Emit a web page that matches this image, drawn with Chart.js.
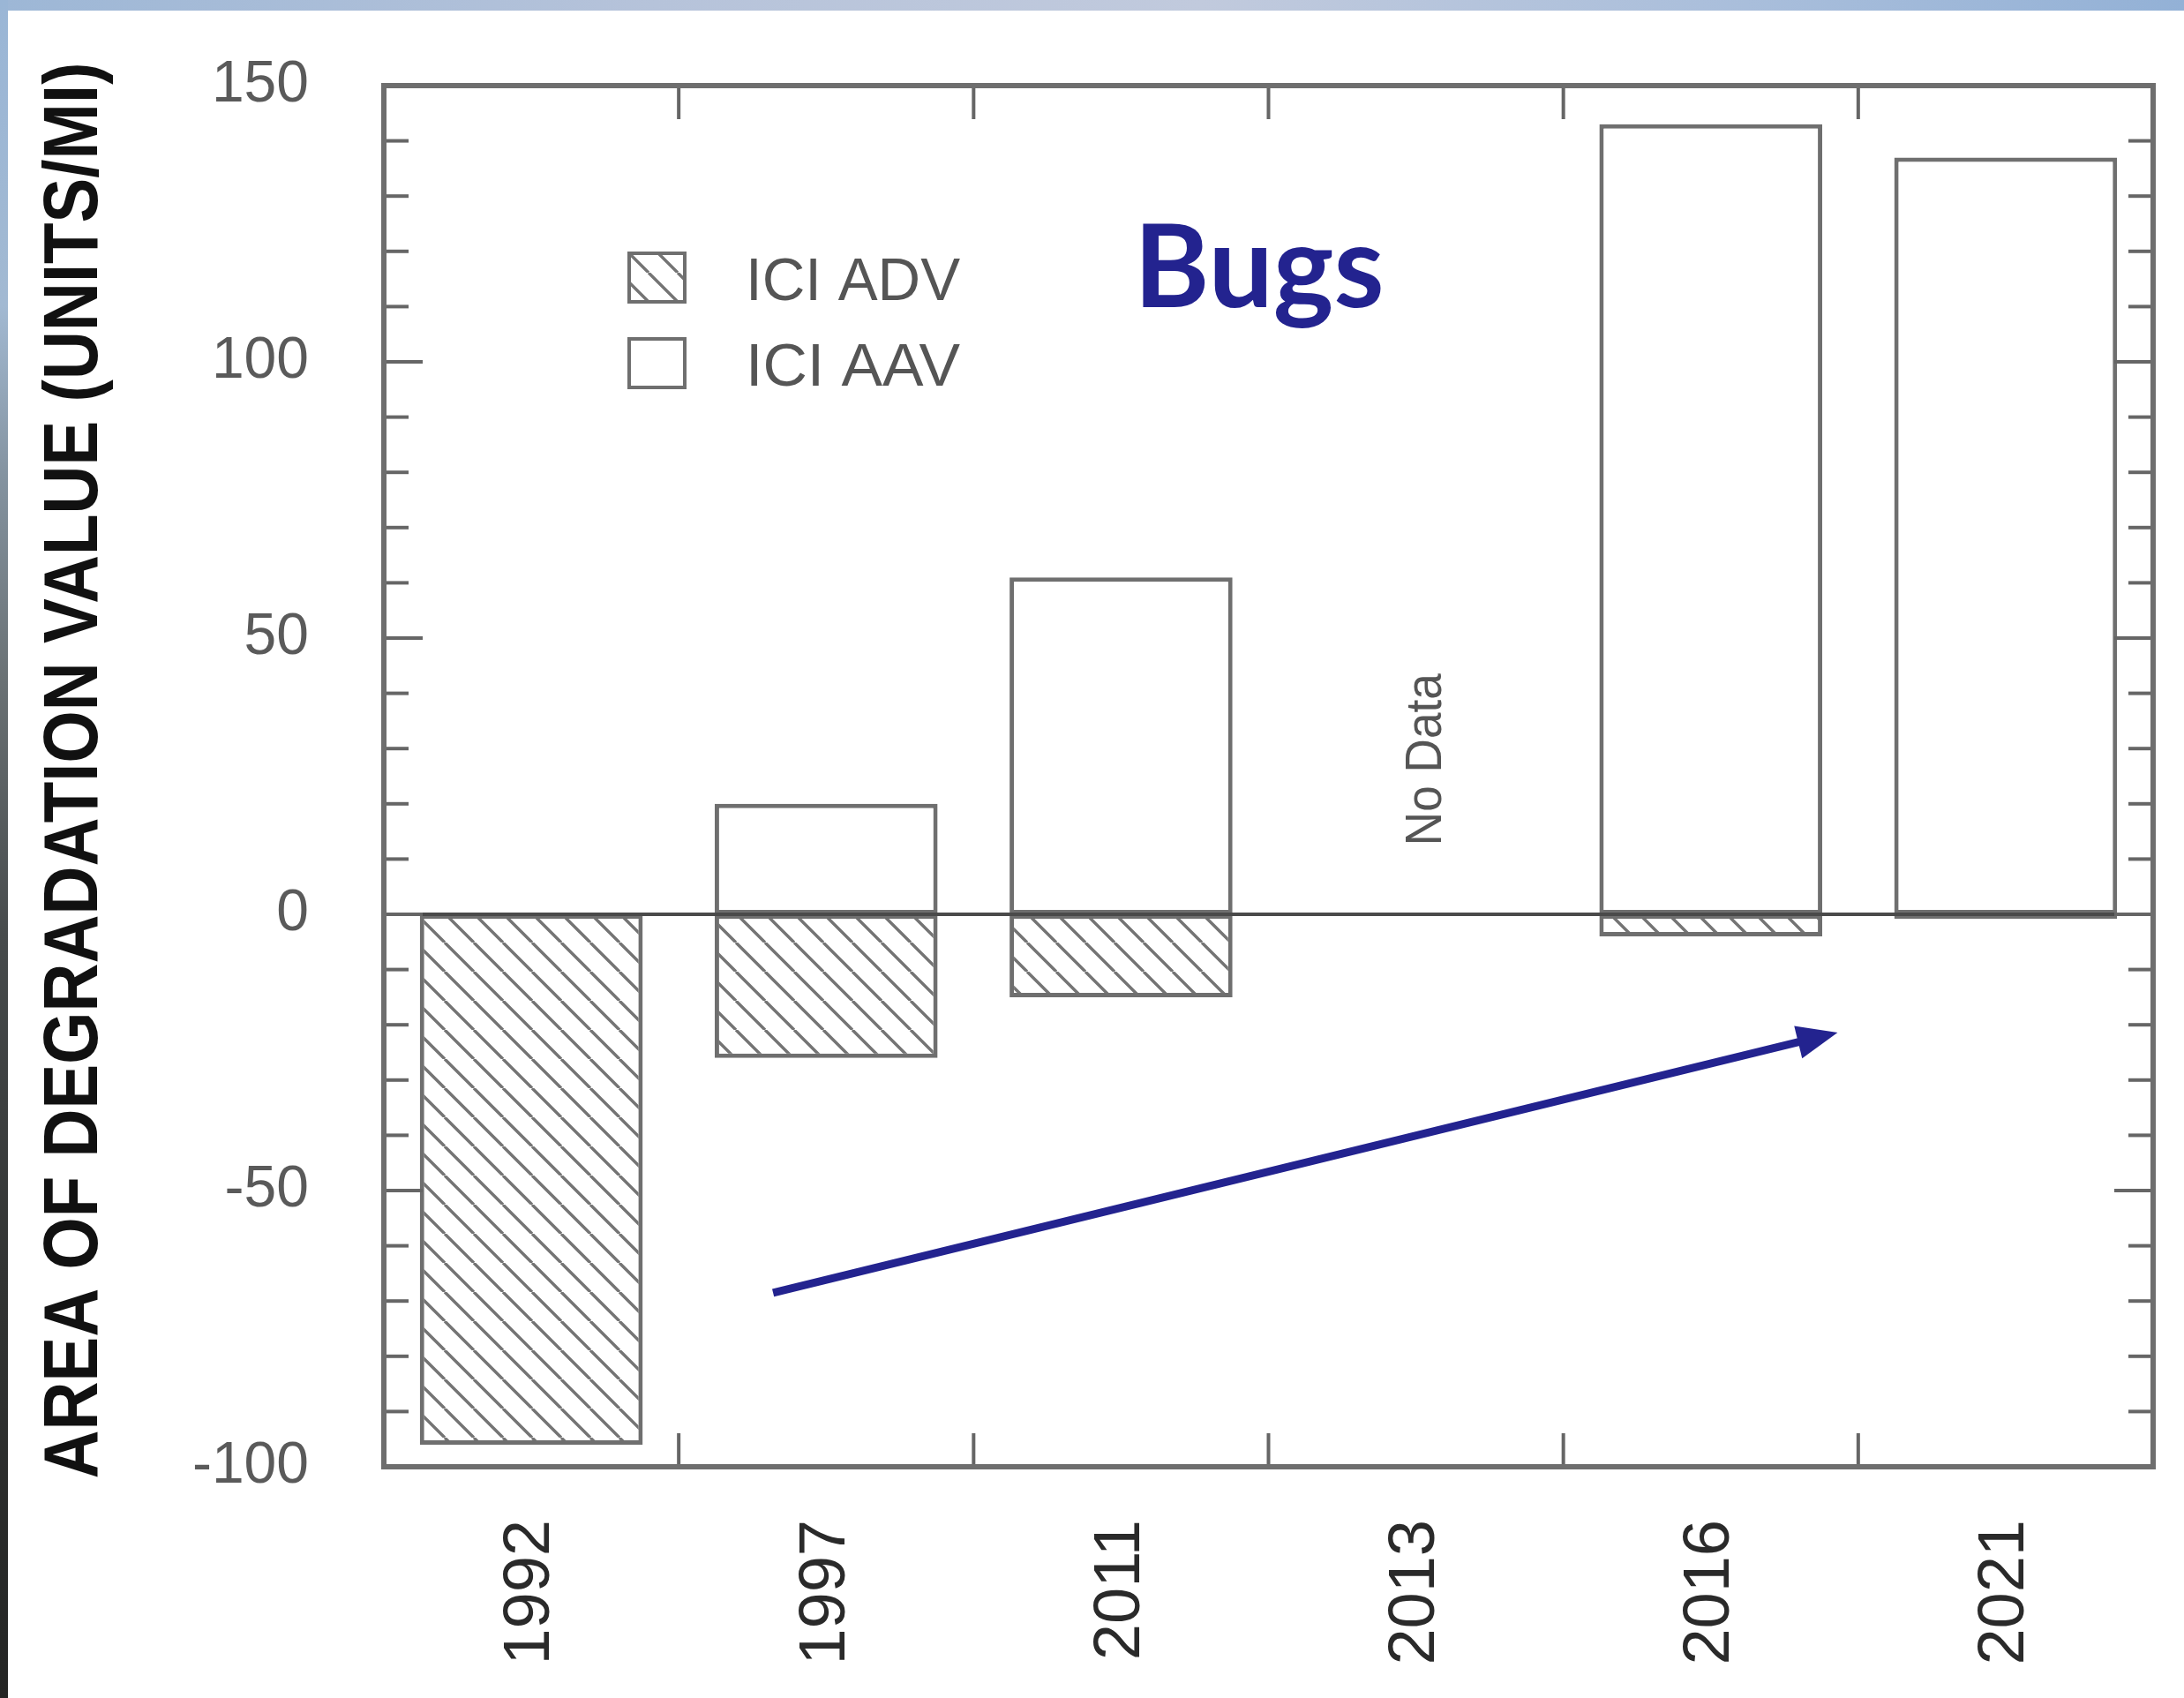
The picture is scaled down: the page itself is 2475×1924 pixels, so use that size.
<!DOCTYPE html>
<html>
<head>
<meta charset="utf-8">
<script src="https://cdn.jsdelivr.net/npm/chart.js@4.4.1/dist/chart.umd.min.js"></script>
<style>
  html, body { margin: 0; padding: 0; width: 2475px; height: 1924px; overflow: hidden; background: #fff; }
  #topband { position: absolute; left: 0; top: 0; width: 2475px; height: 12px;
    background: linear-gradient(90deg, #9db7d6 0%, #b6c3da 30%, #c1cadd 55%, #a9bedb 80%, #93b1d6 100%); }
  #sideband { position: absolute; left: 0; top: 0; width: 9px; height: 1924px;
    background: linear-gradient(180deg, #9ab6d6 0%, #a2b9d2 18%, #8493a0 28%, #6a7174 40%, #474b4c 55%, #323433 75%, #242524 100%); }
  #panel { position: absolute; left: 9px; top: 12px; width: 2466px; height: 1912px; background: #fff; }
</style>
</head>
<body>
<div id="topband"></div>
<div id="sideband"></div>
<div id="panel"><canvas id="chart" width="2466" height="1912"></canvas></div>
<script>
// Sampling years along the x axis
const years = ['1992', '1997', '2011', '2013', '2016', '2021'];
// Area of degradation value (ADV) – below zero
const adv = [-96, -26, -15, null, -4, -0.8];
// Area of attainment value (AAV) – above zero
const aav = [null, 20, 61, null, 143, 137];
// Labelled ticks on the value axis
const yTicks = [-100, -50, 0, 50, 100, 150];
const seriesNames = ['ICI ADV', 'ICI AAV'];
const yTitle = 'AREA OF DEGRADATION VALUE (UNITS/MI)';
const chartTitle = 'Bugs';
const noDataText = 'No Data';
const noDataAt = { x: 3, y: 28 };
// Trend arrow, in axis units (category index, value)
const trendFrom = { x: 0.82, y: -68.5 };
const trendTo = { x: 4.43, y: -21.4 };

const OUTLINE = '#6f6f6f';
const NAVY = '#23238f';

function hatchPattern(ctx) {
  const s = 33;
  const c = document.createElement('canvas');
  c.width = s; c.height = s;
  const g = c.getContext('2d');
  g.fillStyle = '#ffffff';
  g.fillRect(0, 0, s, s);
  g.strokeStyle = '#747474';
  g.lineWidth = 3.4;
  g.beginPath();
  for (let k = -1; k <= 1; k++) {
    g.moveTo(k * s, 0);
    g.lineTo(k * s + s, s);
  }
  g.stroke();
  return ctx.createPattern(c, 'repeat');
}

const canvas = document.getElementById('chart');
const ctx0 = canvas.getContext('2d');
const hatch = hatchPattern(ctx0);

function seg(ctx, x1, y1, x2, y2) {
  ctx.beginPath(); ctx.moveTo(x1, y1); ctx.lineTo(x2, y2); ctx.stroke();
}

function fitText(ctx, text, font, length) {
  ctx.font = font;
  const w = ctx.measureText(text).width;
  return length / w;
}

const decor = {
  id: 'decor',
  afterDatasetsDraw(chart) {
    const { ctx, chartArea: a, scales: { x, y } } = chart;
    ctx.save();

    // zero line
    const y0 = y.getPixelForValue(0);
    ctx.strokeStyle = '#4a4a4a';
    ctx.lineWidth = 4;
    seg(ctx, a.left, y0, a.right, y0);

    // inward tick marks on all four sides
    ctx.strokeStyle = '#666';
    ctx.lineWidth = 4;
    for (let v = y.min; v <= y.max; v += 10) {
      const py = y.getPixelForValue(v);
      const len = v % 50 === 0 ? 44 : 28;
      seg(ctx, a.left, py, a.left + len, py);
      seg(ctx, a.right, py, a.right - len, py);
    }
    for (let i = 1; i < years.length; i++) {
      const px = x.getPixelForValue(i - 0.5);
      seg(ctx, px, a.bottom, px, a.bottom - 38);
      seg(ctx, px, a.top, px, a.top + 38);
    }

    // frame
    ctx.strokeStyle = '#6e6e6e';
    ctx.lineWidth = 6;
    ctx.strokeRect(a.left, a.top, a.right - a.left, a.bottom - a.top);

    // legend
    const ds = chart.data.datasets;
    const lx = a.left + 276, lw = 67, lh = 59;
    const rows = [a.top + 188, a.top + 285];
    ds.forEach((d, i) => {
      const top = rows[i];
      ctx.fillStyle = d.backgroundColor;
      ctx.fillRect(lx, top, lw, lh);
      ctx.strokeStyle = OUTLINE;
      ctx.lineWidth = 4;
      ctx.strokeRect(lx + 2, top + 2, lw - 4, lh - 4);
      ctx.fillStyle = '#555';
      const lf = '68px "Liberation Sans", Arial, sans-serif';
      ctx.save();
      ctx.translate(a.left + 410, top + 55);
      ctx.scale(fitText(ctx, d.label, lf, 243), 1);
      ctx.font = lf;
      ctx.textAlign = 'left';
      ctx.textBaseline = 'alphabetic';
      ctx.fillText(d.label, 0, 0);
      ctx.restore();
    });

    // panel title
    ctx.fillStyle = NAVY;
    ctx.font = 'bold 130px Lato, "Open Sans", sans-serif';
    ctx.textAlign = 'left';
    ctx.textBaseline = 'alphabetic';
    ctx.fillText(chartTitle, a.left + 850, a.top + 251);

    // "No Data" marker for the missing year
    const nx = x.getPixelForValue(noDataAt.x);
    const ny = y.getPixelForValue(noDataAt.y);
    const ndFont = '58px "Liberation Sans", Arial, sans-serif';
    const ndScale = fitText(ctx, noDataText, ndFont, 195);
    ctx.save();
    ctx.translate(nx + 28, ny);
    ctx.rotate(-Math.PI / 2);
    ctx.scale(ndScale, 1);
    ctx.fillStyle = '#555';
    ctx.font = ndFont;
    ctx.textAlign = 'center';
    ctx.fillText(noDataText, 0, 0);
    ctx.restore();

    // trend arrow
    const x1 = x.getPixelForValue(trendFrom.x), y1 = y.getPixelForValue(trendFrom.y);
    const x2 = x.getPixelForValue(trendTo.x), y2 = y.getPixelForValue(trendTo.y);
    const ang = Math.atan2(y2 - y1, x2 - x1);
    const head = 46, half = 19;
    ctx.strokeStyle = NAVY;
    ctx.fillStyle = NAVY;
    ctx.lineWidth = 9;
    ctx.lineCap = 'butt';
    seg(ctx, x1, y1, x2 - Math.cos(ang) * head * 0.8, y2 - Math.sin(ang) * head * 0.8);
    ctx.beginPath();
    ctx.moveTo(x2, y2);
    ctx.lineTo(x2 - Math.cos(ang) * head + Math.sin(ang) * half, y2 - Math.sin(ang) * head - Math.cos(ang) * half);
    ctx.lineTo(x2 - Math.cos(ang) * head - Math.sin(ang) * half, y2 - Math.sin(ang) * head + Math.cos(ang) * half);
    ctx.closePath();
    ctx.fill();

    // value-axis title
    const tFont = 'bold 87px "Liberation Sans", Arial, sans-serif';
    const tScale = fitText(ctx, yTitle, tFont, 1605);
    ctx.save();
    ctx.translate(101, 861);
    ctx.rotate(-Math.PI / 2);
    ctx.scale(tScale, 1);
    ctx.fillStyle = '#111';
    ctx.font = tFont;
    ctx.textAlign = 'center';
    ctx.textBaseline = 'alphabetic';
    ctx.fillText(yTitle, 0, 0);
    ctx.restore();

    ctx.restore();
  }
};

new Chart(canvas, {
  type: 'bar',
  data: {
    labels: years,
    datasets: [
      {
        label: seriesNames[0],
        data: adv,
        backgroundColor: hatch,
        borderColor: OUTLINE,
        borderWidth: 5,
        borderSkipped: false,
        barPercentage: 0.756,
        categoryPercentage: 1
      },
      {
        label: seriesNames[1],
        data: aav,
        backgroundColor: '#ffffff',
        borderColor: OUTLINE,
        borderWidth: 5,
        borderSkipped: false,
        barPercentage: 0.756,
        categoryPercentage: 1
      }
    ]
  },
  options: {
    responsive: false,
    animation: false,
    devicePixelRatio: 1,
    layout: { padding: { top: 85, right: 35, left: 0, bottom: 0 } },
    plugins: { legend: { display: false }, tooltip: { enabled: false } },
    scales: {
      x: {
        stacked: true,
        offset: true,
        grid: { display: false, drawTicks: false },
        border: { display: false },
        ticks: {
          minRotation: 90, maxRotation: 90,
          padding: 60,
          color: '#2a2a2a',
          font: { family: '"Liberation Sans", Arial, sans-serif', size: 74 }
        },
        afterFit(scale) { scale.height = 262; scale.paddingTop = 0; }
      },
      y: {
        stacked: true,
        min: -100, max: 150,
        grid: { display: false, drawTicks: false },
        border: { display: false },
        afterBuildTicks(scale) { scale.ticks = yTicks.map(v => ({ value: v })); },
        ticks: {
          padding: 85,
          color: '#5a5a5a',
          font: { family: '"Liberation Sans", Arial, sans-serif', size: 66 }
        },
        afterFit(scale) { scale.width = 426; scale.paddingTop = 0; scale.paddingBottom = 0; }
      }
    }
  },
  plugins: [decor]
});
</script>
</body>
</html>
